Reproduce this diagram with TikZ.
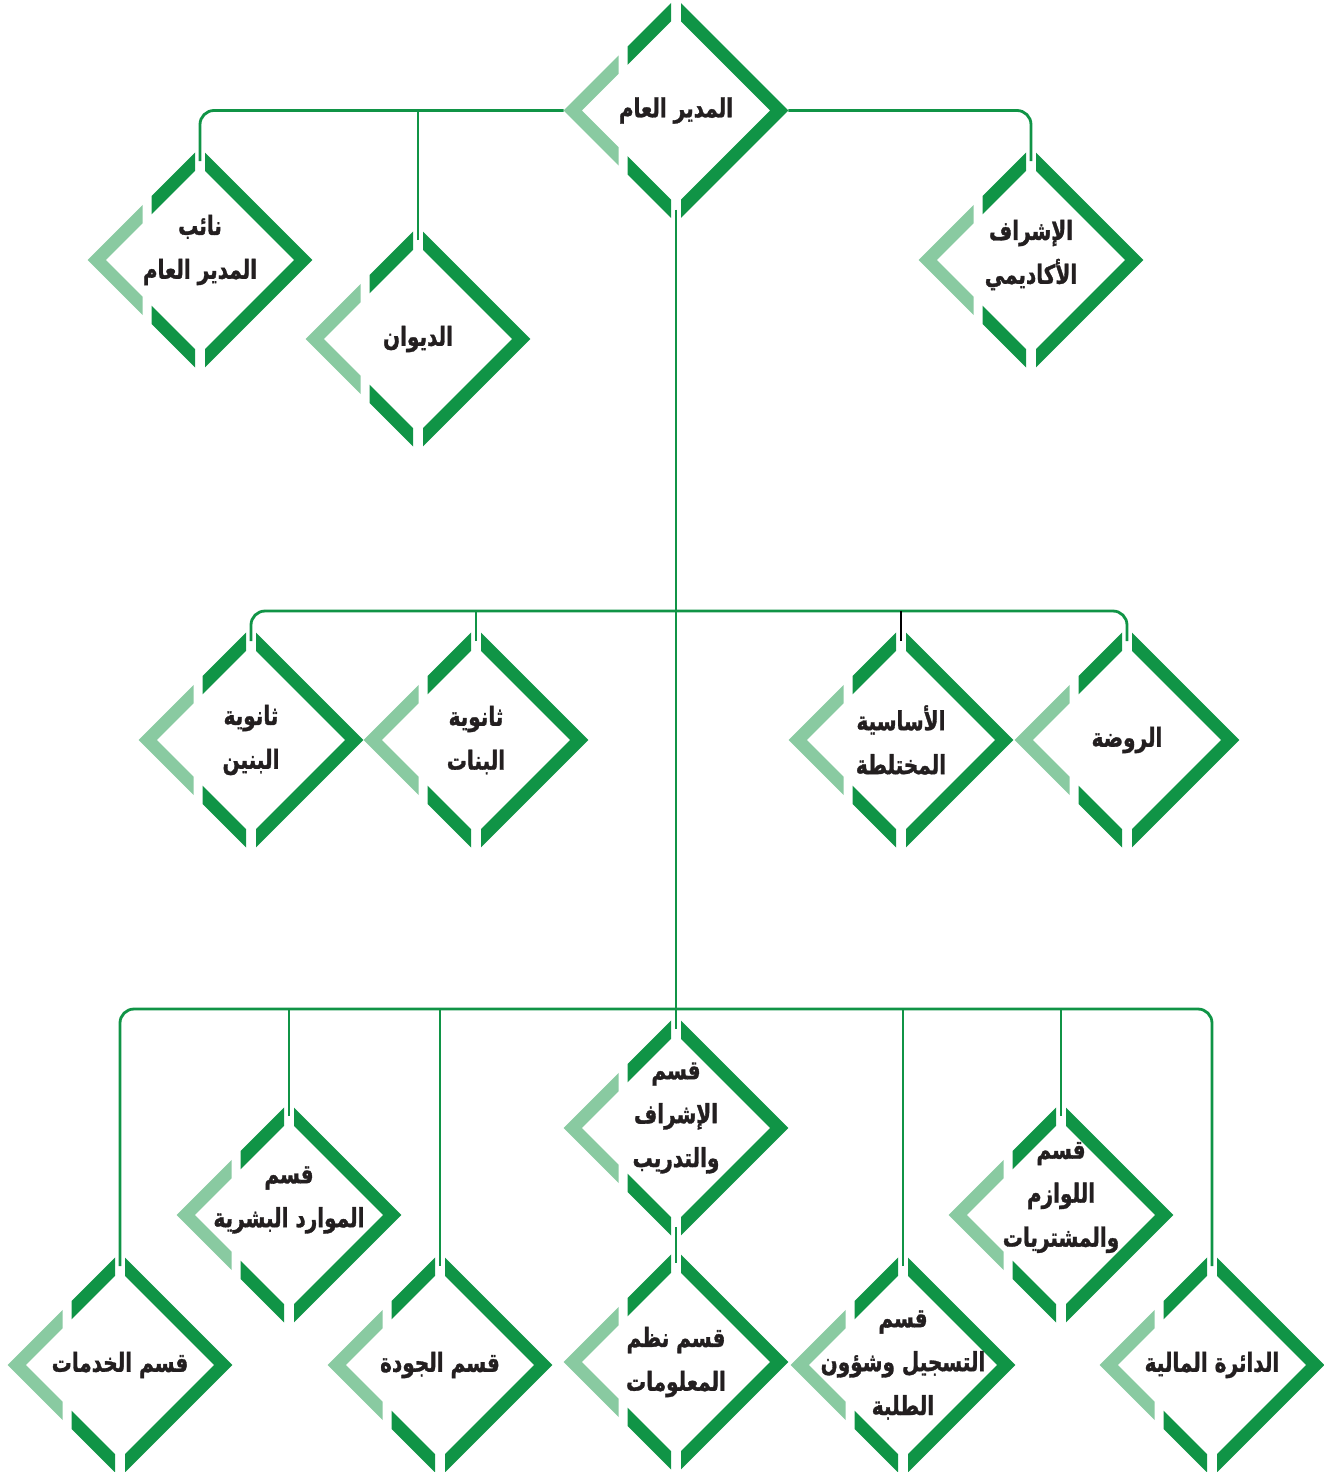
\documentclass[tikz,border=0pt]{standalone}
\usepackage{fontspec}
\newfontfamily\arabicfont[Script=Arabic, FakeStretch=0.76, FakeBold=1.2]{DejaVu Sans}
\TeXXeTstate=1

\definecolor{orgdark}{RGB}{16,148,70}
\definecolor{orglight}{RGB}{137,202,161}
\definecolor{orgtext}{RGB}{35,31,32}

% right-to-left line
\newcommand{\rl}[1]{\beginR #1\endR}

% broken diamond frame with its label; #1 = label node options
\newcommand{\orgunit}[4][]{%
  \begin{scope}[shift={(#3)}]
    \begin{scope}
      \clip (-48.5,-115) rectangle (-5,115) (5,-115) rectangle (115,115);
      \fill[orgdark, even odd rule] (0,-112.4) -- (112.4,0) -- (0,112.4) -- (-112.4,0) -- cycle
        (0,-94.2) -- (94.2,0) -- (0,94.2) -- (-94.2,0) -- cycle;
    \end{scope}
    \begin{scope}
      \clip (-115,-115) rectangle (-57.5,115);
      \fill[orglight, even odd rule] (0,-112.4) -- (112.4,0) -- (0,112.4) -- (-112.4,0) -- cycle
        (0,-94.2) -- (94.2,0) -- (0,94.2) -- (-94.2,0) -- cycle;
    \end{scope}
    \node[orgtitle, #1] (#2) at (0,0) {#4};
    \coordinate (#2-in) at (0,-99);
    \coordinate (#2-out) at (0,99);
    \coordinate (#2-w) at (-112.4,0);
    \coordinate (#2-e) at (112.4,0);
  \end{scope}}

\begin{document}
\begin{tikzpicture}[x=0.02cm, y=-0.02cm]

% Styles
        \tikzstyle{orgtitle}=[font=\arabicfont\bfseries\fontsize{15}{25}\selectfont, text=orgtext, align=center, inner sep=0pt]
        \tikzstyle{link}=[orgdark, line width=1.6pt, rounded corners=0.28cm]
        \tikzstyle{stub}=[black, line width=1.6pt]

        \useasboundingbox (0,0) rectangle (1324,1472);

% Top level
        \orgunit{gm}{676,110.5}{\rl{المدير العام}}
        \orgunit[yshift=0.2cm]{deputy}{200,260}{\rl{نائب}\\\rl{المدير العام}}
        \orgunit{divan}{418,339}{\rl{الديوان}}
        \orgunit[yshift=0.1cm]{acad}{1031,260}{\rl{الإشراف}\\\rl{الأكاديمي}}

% Schools
        \orgunit{boys}{251,740}{\rl{ثانوية}\\\rl{البنين}}
        \orgunit{girls}{476,740}{\rl{ثانوية}\\\rl{البنات}}
        \orgunit{basic}{901,740}{\rl{الأساسية}\\\rl{المختلطة}}
        \orgunit{kg}{1127,740}{\rl{الروضة}}

% Departments
        \orgunit[yshift=0.2cm]{train}{676,1128}{\rl{قسم}\\\rl{الإشراف}\\\rl{والتدريب}}
        \orgunit[yshift=0.3cm]{hr}{289,1215}{\rl{قسم}\\\rl{الموارد البشرية}}
        \orgunit[yshift=0.35cm]{supply}{1061,1215}{\rl{قسم}\\\rl{اللوازم}\\\rl{والمشتريات}}
        \orgunit{services}{120,1365}{\rl{قسم الخدمات}}
        \orgunit{quality}{440,1365}{\rl{قسم الجودة}}
        \orgunit{infosys}{676,1362}{\rl{قسم نظم}\\\rl{المعلومات}}
        \orgunit{register}{903,1365}{\rl{قسم}\\\rl{التسجيل وشؤون}\\\rl{الطلبة}}
        \orgunit{finance}{1212,1365}{\rl{الدائرة المالية}}

% Bus points on the trunk
        \coordinate (midbus) at (676,611);
        \coordinate (lowbus) at (676,1009);

% Connections
        \draw[link] (gm-w) -| (deputy-in);
        \draw[link] (gm-e) -| (acad-in);
        \draw[link] (divan-in) -- (divan-in |- gm-w);
        \draw[link] (gm-out) -- (train-in);

        \draw[link] (boys-in) |- (midbus) -| (kg-in);
        \draw[link] (girls-in) -- (girls-in |- midbus);
        \draw[stub] (basic-in) -- (basic-in |- midbus);

        \draw[link] (services-in) |- (lowbus) -| (finance-in);
        \draw[link] (hr-in) -- (hr-in |- lowbus);
        \draw[link] (quality-in) -- (quality-in |- lowbus);
        \draw[link] (register-in) -- (register-in |- lowbus);
        \draw[link] (supply-in) -- (supply-in |- lowbus);
        \draw[link] (train-out) -- (infosys-in);

\end{tikzpicture}
\end{document}
